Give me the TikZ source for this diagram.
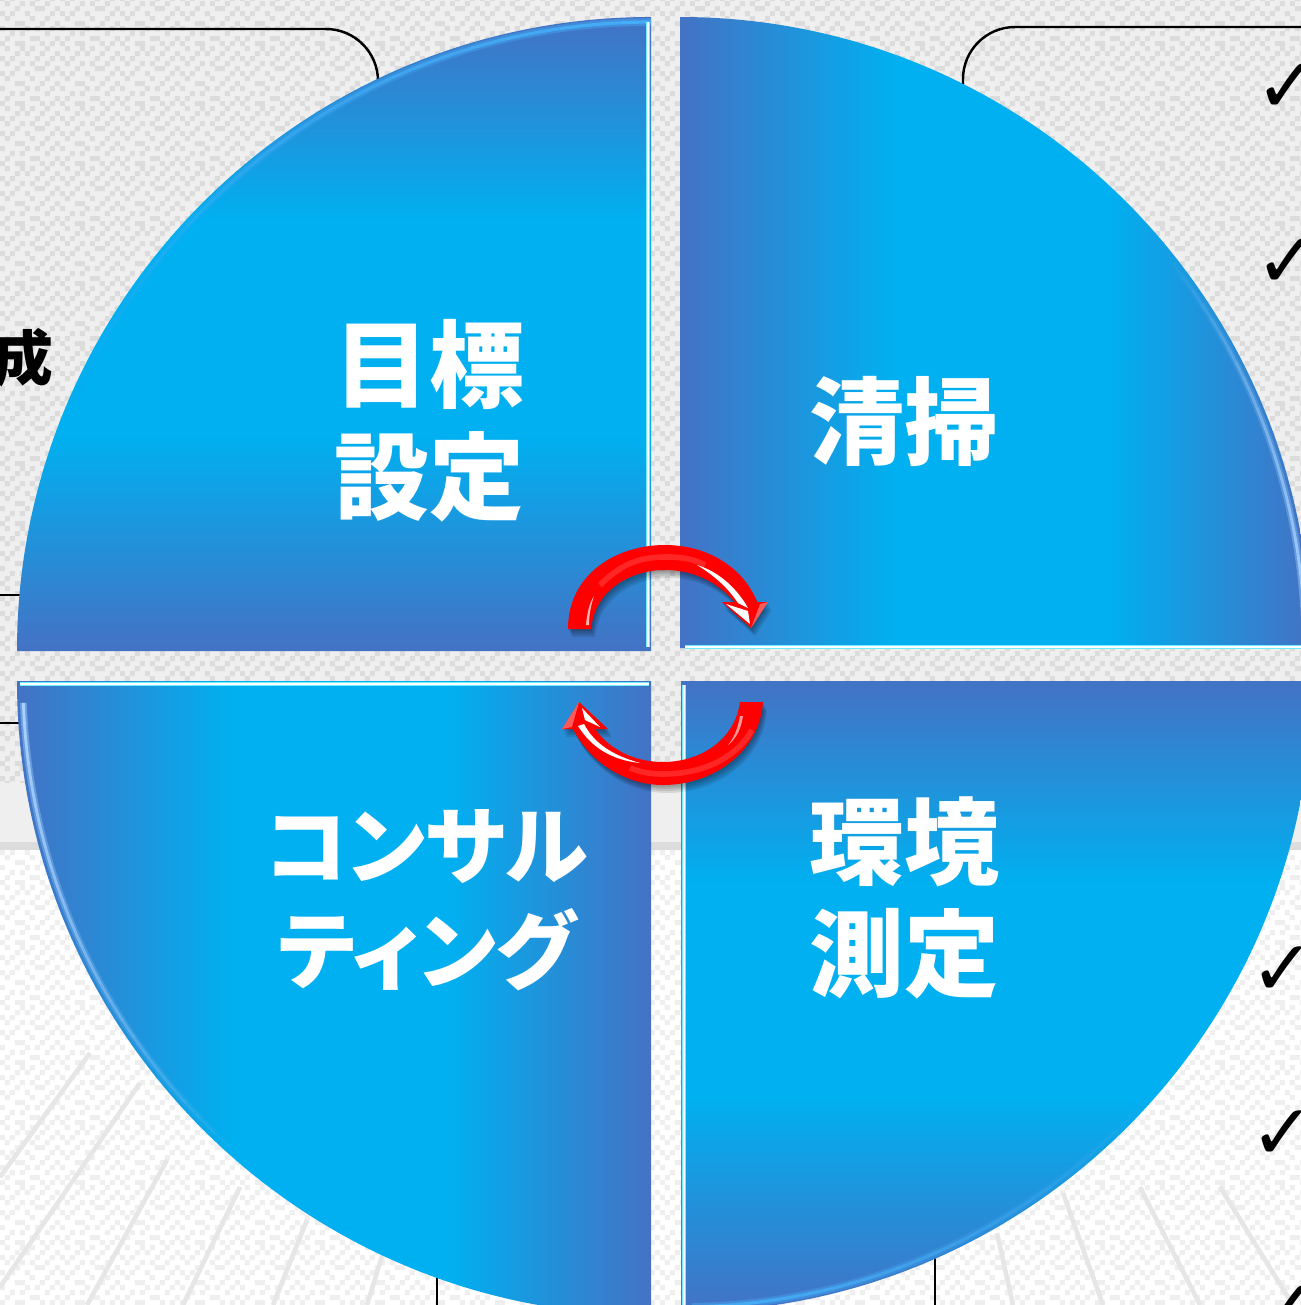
\documentclass[tikz,border=0pt]{standalone}
\usepackage{fontspec}
\newfontfamily\jpfont{Noto Sans CJK JP}
\newfontfamily\kanafont{Noto Sans CJK JP}[RawFeature=+palt]
\newfontfamily\tickfont{DejaVu Sans}
\usetikzlibrary{patterns}

\definecolor{quadedge}{HTML}{4472C4}
\definecolor{quadmid}{HTML}{00B0F0}
\definecolor{bevelcyan}{HTML}{70ECFF}
\definecolor{glowblue}{HTML}{45AEF8}
\definecolor{glowpale}{HTML}{A6D2FF}
\definecolor{arrowred}{HTML}{FF0000}
\definecolor{uppergrey}{HTML}{EFEFEF}
\definecolor{upperdot}{HTML}{DCDCDC}
\definecolor{lowerdot}{HTML}{EFEFEF}
\definecolor{streakgrey}{HTML}{E6E6E6}

\pgfdeclarehorizontalshading{quadh}{100bp}{color(0bp)=(quadedge); color(25bp)=(quadedge);
    color(42bp)=(quadmid); color(59bp)=(quadmid); color(75bp)=(quadedge); color(100bp)=(quadedge)}
\pgfdeclareverticalshading{quadv}{100bp}{color(0bp)=(quadedge); color(25bp)=(quadedge);
    color(42bp)=(quadmid); color(59bp)=(quadmid); color(75bp)=(quadedge); color(100bp)=(quadedge)}

\pgfdeclarepatternformonly{dither}{\pgfpointorigin}{\pgfqpoint{17.04pt}{17.04pt}}{\pgfqpoint{17.04pt}{17.04pt}}{
    \foreach \i/\j in {0/0,3/0,4/0,8/0,10/0,1/1,6/1,7/1,11/1,2/2,4/2,9/2,0/3,5/3,7/3,10/3,3/4,4/4,8/4,
        11/4,1/5,6/5,9/5,0/6,2/6,5/6,10/6,3/7,7/7,8/7,11/7,1/8,4/8,6/8,9/8,0/9,2/9,7/9,10/9,3/10,5/10,
        8/10,11/10,1/11,4/11,6/11,9/11}{
        \pgfpathrectangle{\pgfpoint{\i*1.42pt}{\j*1.42pt}}{\pgfqpoint{1.42pt}{1.42pt}}
    }
    \pgfusepath{fill}
}

\tikzset{
    quadlabel/.style={text=white, align=center, font=\jpfont\bfseries\fontsize{27pt}{31.8pt}\selectfont},
    kanalabel/.style={text=white, align=center, font=\kanafont\bfseries\fontsize{24pt}{29.8pt}\selectfont},
    boxline/.style={draw=black, line width=0.7pt},
    bevel/.style={draw=bevelcyan, line width=0.45pt, double=white, double distance=0.45pt},
    ticklabel/.style={text=black, anchor=west, inner sep=0pt, font=\tickfont\fontsize{22pt}{22pt}\selectfont}
}

\newcommand{\arcglow}[6]{
    \foreach \s in {0,...,23}{
        \pgfmathsetmacro\anga{#3+(#4-#3)*\s/24}
        \pgfmathsetmacro\angb{#3+(#4-#3)*(\s+1)/24}
        \pgfmathsetmacro\glowop{1-\s/24}
        \pgfmathsetmacro\softop{0.45*\glowop}
        \draw[#5, line width=2.4*#6, opacity=\softop] (#1) ++(\anga:#2) arc (\anga:\angb:#2);
        \draw[#5, line width=#6, opacity=\glowop] (#1) ++(\anga:#2) arc (\anga:\angb:#2);
    }
}

\newcommand{\toparrow}{
    (568,629) .. controls (568,575) and (615,545) .. (665,545) .. controls (710,545) and (745,570) .. (757,602)
    -- (768,602) -- (751,628) -- (722,602) -- (735,602)
    .. controls (720,585) and (697,570) .. (665,570) .. controls (630,570) and (595,590) .. (591,629) -- cycle
}
\newcommand{\lowarrow}{
    (763,702) .. controls (760,750) and (715,785) .. (663,785) .. controls (625,785) and (590,762) .. (573,729)
    -- (562,729) -- (579,702) -- (608,729) -- (595,729)
    .. controls (610,750) and (635,762) .. (663,762) .. controls (700,762) and (735,740) .. (740,702) -- cycle
}

\begin{document}
\begin{tikzpicture}[x=0.01cm, y=-0.01cm]
    \useasboundingbox (0,0) rectangle (1301,1305);

    \fill[uppergrey] (0,0) rectangle (1301,850);
    \fill[pattern=dither, pattern color=upperdot] (0,0) rectangle (1301,782);
    \fill[upperdot] (0,842) rectangle (1301,850);
    \fill[white] (0,850) rectangle (1301,1305);
    \fill[pattern=dither, pattern color=lowerdot] (0,850) rectangle (1301,1305);
    \foreach \xa/\ya/\xb/\yb in {0/1177/90/1053, 0/1287/140/1083, 87/1305/167/1160, 183/1305/240/1187,
        273/1305/307/1220, 367/1305/383/1253, 997/1233/1013/1305, 1063/1193/1103/1305,
        1140/1187/1200/1305, 1220/1187/1293/1305}{
        \draw[streakgrey, line width=1.3pt] (\xa,\ya) -- (\xb,\yb);
    }

    \draw[boxline, rounded corners=0.52cm] (-20,29) -| (378,140);
    \draw[boxline, rounded corners=0.52cm] (1340,27) -| (963,140);
    \draw[boxline] (0,595) -- (40,595);
    \draw[boxline] (0,723) -- (40,723);
    \draw[boxline] (437,1240) -- (437,1305);
    \draw[boxline] (935,1230) -- (935,1305);

    \node[ticklabel] (tick1) at (1255,88) {✓};
    \node[ticklabel] (tick2) at (1255,263) {✓};
    \node[ticklabel] (tick3) at (1250,971) {✓};
    \node[ticklabel] (tick4) at (1250,1135) {✓};
    \node[ticklabel] (tick5) at (1255,1310) {✓};
    \node[text=black, inner sep=0pt, font=\jpfont\bfseries\fontsize{17pt}{17pt}\selectfont] (seisei) at (23,358) {成};

    \coordinate (tlc) at (651,651);
    \coordinate (trc) at (680,648);
    \coordinate (blc) at (651,681);
    \coordinate (brc) at (681,681);

    \shade[shading=quadv] (tlc) -- (17,651) arc (180:270:634) -- cycle;
    \shade[shading=quadh] (trc) -- (680,17) arc (270:360:631) -- cycle;
    \shade[shading=quadh] (blc) -- (17,681) arc (180:90:634) -- cycle;
    \shade[shading=quadv] (brc) -- (1312,681) arc (0:90:631) -- cycle;

    \arcglow{tlc}{629}{270}{203}{glowblue}{0.9pt}
    \arcglow{trc}{625}{359}{322}{glowpale}{0.8pt}
    \arcglow{blc}{628}{178}{132}{glowpale}{0.8pt}
    \arcglow{brc}{626}{89}{42}{glowblue}{0.9pt}

    \draw[bevel] (648,22) -- (648,647);
    \draw[bevel] (685,647) -- (1301,647);
    \draw[bevel] (20,684) -- (649,684);
    \draw[bevel] (684,685) -- (684,1310);

    \node[quadlabel] (mokuhyo) at (429,421) {目標\\設定};
    \node[quadlabel] (seiso) at (904,421) {清掃};
    \node[quadlabel] (kankyo) at (904,898) {環境\\測定};
    \node[kanalabel] (consult) at (427,900) {コンサル\\ティング};

    \foreach \d in {1,...,4}{
        \fill[black, opacity=0.1, shift={(\d,2*\d)}] \toparrow;
        \fill[black, opacity=0.1, shift={(\d,2*\d)}] \lowarrow;
    }
    \fill[arrowred] \toparrow;
    \fill[arrowred] \lowarrow;

    \draw[white, opacity=0.15, line width=1.6pt] (600,585) .. controls (625,560) and (645,557) .. (668,557) .. controls (685,557) and (695,560) .. (705,565);
    \fill[white] (697,565) .. controls (720,572) and (738,590) .. (748,608) -- (738,603) .. controls (728,588) and (715,576) .. cycle;
    \fill[white] (726,604) -- (748,611) -- (750,624) -- cycle;
    \fill[white, opacity=0.7] (594,596) .. controls (591,605) and (589,615) .. (589,625) -- (586,625) .. controls (587,612) and (590,602) .. cycle;
    \fill[white, opacity=0.35] (751,628) -- (760,604) -- (768,602) -- cycle;

    \draw[white, opacity=0.15, line width=1.6pt] (752,730) .. controls (735,760) and (700,774) .. (663,774) .. controls (650,774) and (640,772) .. (630,768);
    \fill[white] (584,724) .. controls (595,745) and (615,756) .. (640,763) .. controls (612,760) and (592,748) .. (578,726) -- cycle;
    \fill[white] (582,708) -- (585,720) -- (600,727) -- cycle;
    \fill[white, opacity=0.6] (740,716) .. controls (738,728) and (734,738) .. (728,745) .. controls (735,740) and (741,730) .. (743,716) -- cycle;
    \fill[white, opacity=0.35] (579,702) -- (562,729) -- (572,727) -- cycle;
\end{tikzpicture}
\end{document}
